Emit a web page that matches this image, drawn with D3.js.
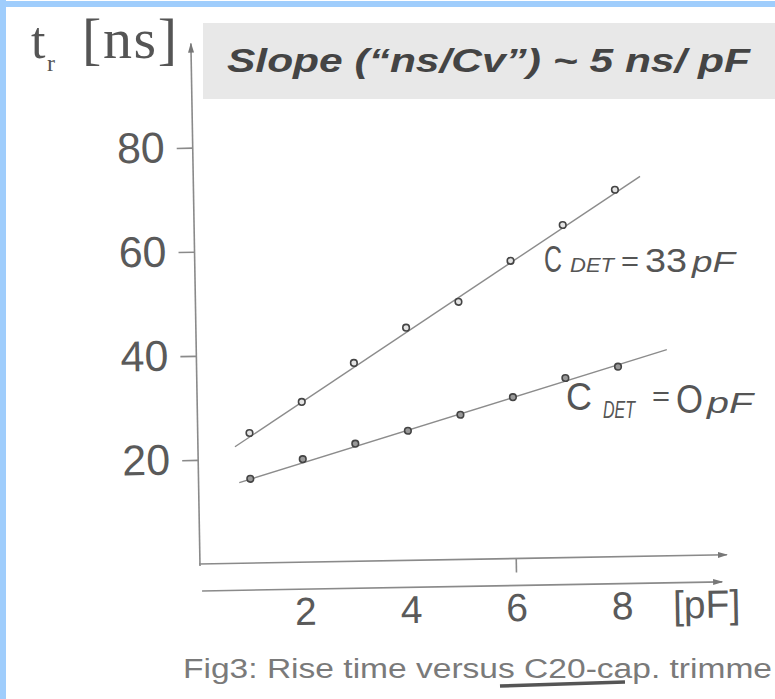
<!DOCTYPE html>
<html>
<head>
<meta charset="utf-8">
<script src="https://cdn.jsdelivr.net/npm/d3@7"></script>
<style>
  body { margin: 0; background: #fff; }
  .axis path, .axis line { stroke: #8a8a8a; stroke-width: 1.6; }
  .tickLbl text { fill: #5a5a5a; font-family: "Liberation Sans", Arial, sans-serif; }
</style>
</head>
<body>
<div class="chart"></div>
<script>
var w = 775;
var h = 699;

// values
var capacitance = [1, 2, 3, 4, 5, 6, 7, 8];            // pF
var riseTime33 = [25.0, 30.8, 38.1, 44.7, 49.5, 57.2, 63.9, 70.5]; // ns, C_DET = 33 pF
var riseTime0 = [16.2, 19.8, 22.6, 24.9, 27.8, 31.0, 34.5, 36.5];  // ns, C_DET = 0 pF
// ends of the hand-drawn fit lines
var fitX33 = [0.72, 8.48];
var fitY33 = [22.4, 73.0];
var fitX0 = [0.79, 8.93];
var fitY0 = [15.5, 39.6];
var yTicks = [20, 40, 60, 80];
var xTicks = [2, 4, 6, 8];
var xMarkTicks = [6];

var svg = d3.select(".chart").append("svg")
  .attr("width", w)
  .attr("height", h);

var defs = svg.append("defs");
defs.append("marker")
  .attr("id", "arrow")
  .attr("viewBox", "0 -4 10 8")
  .attr("refX", 9)
  .attr("refY", 0)
  .attr("markerWidth", 10)
  .attr("markerHeight", 8)
  .attr("markerUnits", "userSpaceOnUse")
  .attr("orient", "auto")
  .append("path")
  .attr("d", "M0,-3L10,0L0,3Z")
  .attr("fill", "#777");

// blue frame of the slide
svg.append("rect").attr("x", 0).attr("y", 1).attr("width", w).attr("height", 6).attr("fill", "#9fcdfc");
svg.append("rect").attr("x", 0).attr("y", 0).attr("width", 6).attr("height", h).attr("fill", "#9fcdfc");

// title box
svg.append("rect")
  .attr("x", 203).attr("y", 23)
  .attr("width", w - 203).attr("height", 76)
  .attr("fill", "#e8e8e8");

svg.append("text")
  .attr("x", 227)
  .attr("y", 72)
  .attr("textLength", 523)
  .attr("lengthAdjust", "spacingAndGlyphs")
  .style("font-family", "Liberation Sans, Arial, sans-serif")
  .style("font-weight", "bold")
  .style("font-style", "italic")
  .style("font-size", "33px")
  .style("fill", "#444")
  .text("Slope (\u201cns/Cv\u201d) ~ 5 ns/ pF");

// y label  t_r [ns]
var yl = svg.append("g")
  .style("font-family", "Liberation Serif, Times New Roman, serif")
  .style("fill", "#555");
yl.append("text").attr("x", 31).attr("y", 58).style("font-size", "52px").text("t");
yl.append("text").attr("x", 47).attr("y", 71).style("font-size", "24px").text("r");
yl.append("text").attr("x", 82).attr("y", 58).attr("textLength", 95)
  .style("font-size", "58px").text("[ns]");

// plot: the scan is tilted about 1 degree
var plot = svg.append("g")
  .attr("transform", "rotate(-1, 200, 565)");

var xScale = d3.scaleLinear()
  .domain([0, 10])
  .range([199, 727]);

var yScale = d3.scaleLinear()
  .domain([0, 100])
  .range([564, 43.5]);

var yAxis = d3.axisLeft(yScale)
  .tickValues(yTicks)
  .tickSize(16)
  .tickSizeOuter(0)
  .tickPadding(12);

var yG = plot.append("g")
  .attr("class", "axis tickLbl")
  .attr("transform", "translate(200,0)")
  .call(yAxis);
yG.selectAll("text").style("font-size", "43px");
yG.select(".domain")
  .attr("d", "M0," + (yScale(0) + 2) + "V" + yScale(100))
  .attr("marker-end", "url(#arrow)");

// frame axis with one tick mark
var xAxisTop = d3.axisBottom(xScale)
  .tickValues(xMarkTicks)
  .tickSize(14)
  .tickSizeOuter(0)
  .tickFormat("");

var xG = plot.append("g")
  .attr("class", "axis")
  .attr("transform", "translate(0," + yScale(0) + ")")
  .call(xAxisTop);
xG.select(".domain")
  .attr("d", "M" + xScale(0) + ",0H" + xScale(10))
  .attr("marker-end", "url(#arrow)");

// labelled scale line below
var xAxisLbl = d3.axisBottom(xScale)
  .tickValues(xTicks)
  .tickSize(0)
  .tickSizeOuter(0)
  .tickPadding(8);

var xL = plot.append("g")
  .attr("class", "axis tickLbl")
  .attr("transform", "translate(0," + (yScale(0) + 27) + ")")
  .call(xAxisLbl);
xL.selectAll("text").style("font-size", "39px");
xL.select(".domain")
  .attr("d", "M" + xScale(0.05) + ",0H" + xScale(9.9))
  .attr("marker-end", "url(#arrow)");

xL.append("text")
  .attr("x", xScale(9.6))
  .attr("y", 8)
  .attr("dy", "0.71em")
  .attr("text-anchor", "middle")
  .style("font-size", "39px")
  .text("[pF]");

// fit lines
var line = d3.line()
  .x(function(d) { return xScale(d[0]); })
  .y(function(d) { return yScale(d[1]); });

plot.append("path")
  .datum(d3.zip(fitX33, fitY33))
  .attr("d", line)
  .attr("fill", "none")
  .attr("stroke", "#8c8c8c")
  .attr("stroke-width", 1.4);

plot.append("path")
  .datum(d3.zip(fitX0, fitY0))
  .attr("d", line)
  .attr("fill", "none")
  .attr("stroke", "#8c8c8c")
  .attr("stroke-width", 1.4);

// measured points
plot.selectAll(".pt33")
  .data(d3.zip(capacitance, riseTime33))
  .enter()
  .append("circle")
  .attr("class", "pt33")
  .attr("cx", function(d) { return xScale(d[0]); })
  .attr("cy", function(d) { return yScale(d[1]); })
  .attr("r", 3.3)
  .attr("fill", "#e4e4e4")
  .attr("stroke", "#444")
  .attr("stroke-width", 1.6);

plot.selectAll(".pt0")
  .data(d3.zip(capacitance, riseTime0))
  .enter()
  .append("circle")
  .attr("class", "pt0")
  .attr("cx", function(d) { return xScale(d[0]); })
  .attr("cy", function(d) { return yScale(d[1]); })
  .attr("r", 3.3)
  .attr("fill", "#999")
  .attr("stroke", "#444")
  .attr("stroke-width", 1.6);

// handwritten curve labels
var ann = svg.append("g")
  .style("font-family", "Liberation Sans, Arial, sans-serif")
  .style("fill", "#555");

var piece = function(x, y, size, txt, len, italic) {
  var t = ann.append("text")
    .attr("x", x)
    .attr("y", y)
    .style("font-size", size + "px")
    .text(txt);
  if (len) t.attr("textLength", len).attr("lengthAdjust", "spacingAndGlyphs");
  if (italic) t.style("font-style", "italic");
};

piece(544, 272, 36, "C", 18);
piece(570, 272, 21, "DET", 44, true);
piece(621, 271, 28, "=", 18);
piece(645, 272, 34, "33", 42);
piece(692, 272, 30, "pF", 43, true);

piece(566, 410, 38, "C", 26);
piece(603, 418, 23, "DET", 32, true);
piece(652, 406, 28, "=", 18);
piece(676, 413, 40, "O", 27);
piece(707, 413, 30, "pF", 46, true);

// caption
svg.append("text")
  .attr("x", 183)
  .attr("y", 678)
  .attr("textLength", 589)
  .attr("lengthAdjust", "spacingAndGlyphs")
  .style("font-family", "Liberation Sans, Arial, sans-serif")
  .style("font-size", "27px")
  .style("fill", "#7a7a7a")
  .text("Fig3: Rise time versus C20-cap. trimme");

svg.append("path")
  .attr("d", "M500,686L625,682")
  .attr("stroke", "#555")
  .attr("stroke-width", 3.5)
  .attr("fill", "none");
</script>
</body>
</html>
